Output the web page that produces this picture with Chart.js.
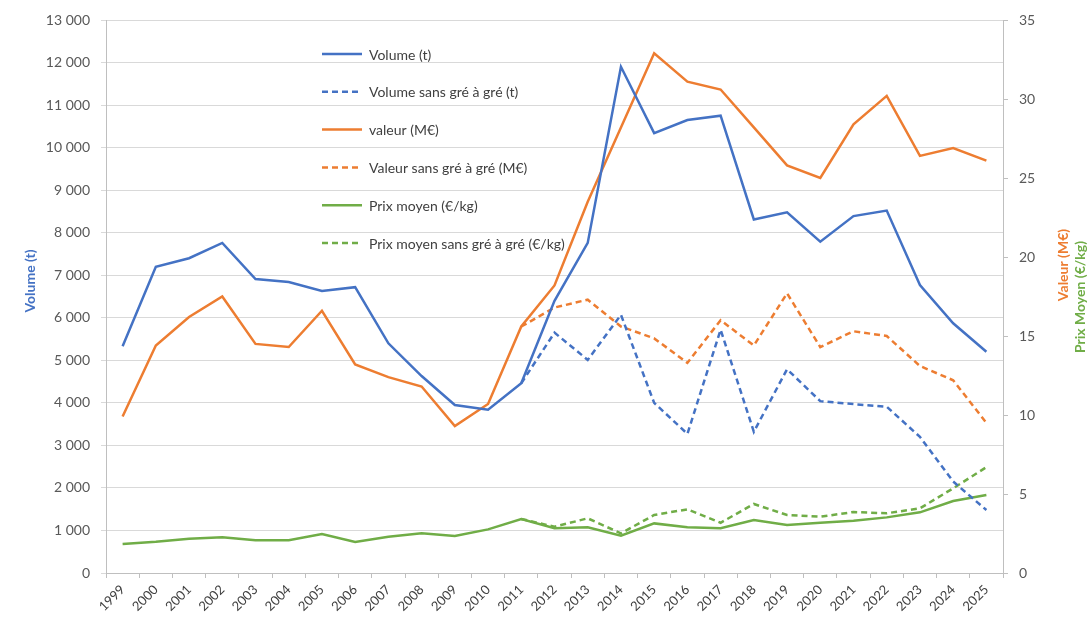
<!DOCTYPE html>
<html lang="fr">
<head>
<meta charset="utf-8">
<title>Volume, valeur et prix moyen 1999-2025</title>
<script src="https://cdn.jsdelivr.net/npm/chart.js@4.4.1/dist/chart.umd.min.js"></script>
<style>
    html, body { margin: 0; padding: 0; background: #fff; }
    #wrap { width: 1092px; height: 621px; }
</style>
</head>
<body>
<div id="wrap"><canvas id="chart" width="1092" height="621"></canvas></div>
<script>
// Data
const years = ['1999', '2000', '2001', '2002', '2003', '2004', '2005', '2006', '2007', '2008', '2009', '2010', '2011',
    '2012', '2013', '2014', '2015', '2016', '2017', '2018', '2019', '2020', '2021', '2022', '2023', '2024', '2025'];

const volume = [5330, 7200, 7400, 7760, 6910, 6840, 6630, 6720, 5400, 4630, 3950, 3840, 4460,
    6400, 7760, 11900, 10340, 10650, 10750, 8310, 8480, 7790, 8390, 8520, 6770, 5870, 5200];
const volumeSansGre = [null, null, null, null, null, null, null, null, null, null, null, null, 4460,
    5650, 5010, 6070, 4000, 3270, 5720, 3320, 4790, 4040, 3970, 3910, 3200, 2150, 1480];

const valeur = [9.9, 14.4, 16.2, 17.5, 14.5, 14.3, 16.6, 13.2, 12.4, 11.8, 9.3, 10.7, 15.6,
    18.2, 23.5, 28.2, 32.9, 31.1, 30.6, 28.2, 25.8, 25.0, 28.4, 30.2, 26.4, 26.9, 26.1];
const valeurSansGre = [null, null, null, null, null, null, null, null, null, null, null, null, 15.6,
    16.8, 17.3, 15.6, 14.85, 13.3, 16.0, 14.4, 17.7, 14.3, 15.3, 15.0, 13.1, 12.2, 9.5];

const prix = [1.84, 1.98, 2.17, 2.26, 2.07, 2.07, 2.47, 1.96, 2.3, 2.51, 2.34, 2.76, 3.42,
    2.83, 2.89, 2.36, 3.14, 2.89, 2.83, 3.35, 3.04, 3.18, 3.31, 3.52, 3.84, 4.56, 4.94];
const prixSansGre = [null, null, null, null, null, null, null, null, null, null, null, null, 3.42,
    2.93, 3.46, 2.51, 3.67, 4.03, 3.18, 4.37, 3.67, 3.56, 3.86, 3.78, 4.09, 5.36, 6.7];

const BLUE = '#4472C4';
const ORANGE = '#ED7D31';
const GREEN = '#70AD47';
const FONT = 'Lato, "Open Sans", sans-serif';
const DASH = [6, 4];

function frNumber(v) {
    return String(v).replace(/\B(?=(\d{3})+(?!\d))/g, ' ');
}

function line(label, data, color, axis, dashed) {
    return {
        label: label,
        data: data,
        borderColor: color,
        backgroundColor: color,
        borderWidth: 2.5,
        borderDash: dashed ? DASH : [],
        pointRadius: 0,
        tension: 0,
        fill: false,
        yAxisID: axis
    };
}

// Legend drawn inside the plot, one item per row (Excel style)
const insideLegend = {
    id: 'insideLegend',
    beforeDatasetsDraw(chart) {
        const ctx = chart.ctx;
        const x0 = 322, y0 = 54, rowH = 37.8;
        ctx.save();
        ctx.font = '14px ' + FONT;
        ctx.textBaseline = 'middle';
        ctx.fillStyle = '#404040';
        chart.data.datasets.forEach(function(ds, i) {
            const y = y0 + i * rowH;
            ctx.strokeStyle = ds.borderColor;
            ctx.lineWidth = 2.5;
            ctx.setLineDash(ds.borderDash || []);
            ctx.beginPath();
            ctx.moveTo(x0, y);
            ctx.lineTo(x0 + 40, y);
            ctx.stroke();
            ctx.setLineDash([]);
            ctx.fillText(ds.label, x0 + 47, y + 1);
        });
        ctx.restore();
    }
};

// Rotated axis titles
const axisTitles = {
    id: 'axisTitles',
    afterDraw(chart) {
        const ctx = chart.ctx;
        function vtext(text, x, y, color) {
            ctx.save();
            ctx.translate(x, y);
            ctx.rotate(-Math.PI / 2);
            ctx.font = 'bold 14px ' + FONT;
            ctx.fillStyle = color;
            ctx.textAlign = 'center';
            ctx.textBaseline = 'middle';
            ctx.fillText(text, 0, 0);
            ctx.restore();
        }
        vtext('Volume (t)', 30, 281, BLUE);
        vtext('Valeur (M€)', 1063, 265, ORANGE);
        vtext('Prix Moyen (€/kg)', 1080, 297, GREEN);
    }
};

new Chart(document.getElementById('chart').getContext('2d'), {
    type: 'line',
    data: {
        labels: years,
        datasets: [
            line('Volume (t)', volume, BLUE, 'y', false),
            line('Volume sans gré à gré (t)', volumeSansGre, BLUE, 'y', true),
            line('valeur (M€)', valeur, ORANGE, 'y1', false),
            line('Valeur sans gré à gré (M€)', valeurSansGre, ORANGE, 'y1', true),
            line('Prix moyen (€/kg)', prix, GREEN, 'y1', false),
            line('Prix moyen sans gré à gré (€/kg)', prixSansGre, GREEN, 'y1', true)
        ]
    },
    options: {
        responsive: false,
        animation: false,
        devicePixelRatio: 1,
        layout: { padding: { top: 20, left: 0, right: 0, bottom: 0 } },
        plugins: {
            legend: { display: false },
            tooltip: { enabled: false }
        },
        scales: {
            x: {
                type: 'category',
                offset: true,
                grid: { offset: true, drawOnChartArea: false, drawTicks: true, tickLength: 5, color: '#bfbfbf' },
                border: { color: '#bfbfbf', width: 1 },
                ticks: {
                    minRotation: 45,
                    maxRotation: 45,
                    autoSkip: false,
                    padding: 4,
                    color: '#404040',
                    font: { family: FONT, size: 13 }
                },
                afterFit: function(scale) { scale.height = 48; }
            },
            y: {
                position: 'left',
                min: 0,
                max: 13000,
                grid: { color: '#d9d9d9', tickLength: 5 },
                border: { color: '#bfbfbf', width: 1 },
                ticks: {
                    stepSize: 1000,
                    padding: 11,
                    color: '#595959',
                    font: { family: FONT, size: 14 },
                    callback: function(v) { return frNumber(v); }
                },
                afterFit: function(scale) { scale.width = 106; }
            },
            y1: {
                position: 'right',
                min: 0,
                max: 35,
                grid: { drawOnChartArea: false, tickLength: 5, color: '#bfbfbf' },
                border: { color: '#bfbfbf', width: 1 },
                ticks: {
                    stepSize: 5,
                    padding: 11,
                    color: '#595959',
                    font: { family: FONT, size: 14 }
                },
                afterFit: function(scale) { scale.width = 89; }
            }
        }
    },
    plugins: [insideLegend, axisTitles]
});
</script>
</body>
</html>
